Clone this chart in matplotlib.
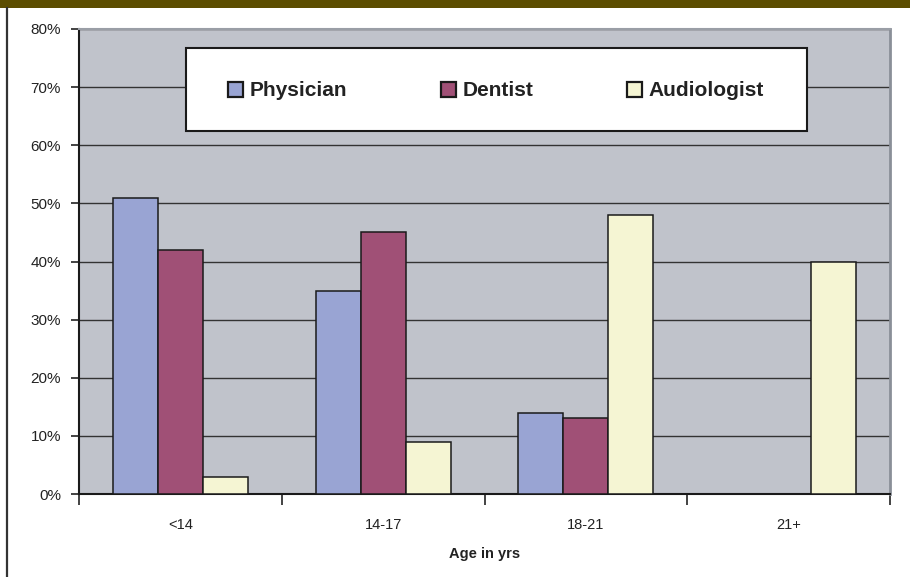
import matplotlib.pyplot as plt
import matplotlib.transforms as mtransforms
import numpy as np
from matplotlib.patches import Rectangle
from matplotlib.lines import Line2D

# data
ages = ['<14', '14-17', '18-21', '21+']
physician = [51, 35, 14, 0]
dentist = [42, 45, 13, 0]
audiologist = [3, 9, 48, 40]
series = ['Physician', 'Dentist', 'Audiologist']
colors = ['#99A4D3', '#A05076', '#F5F5D3']

plt.rcParams['font.family'] = ['Liberation Sans', 'DejaVu Sans']

W, H = 910, 577
fig = plt.figure(figsize=(W / 100, H / 100), dpi=100)

# olive band on top and dark line on the left
fig.patches.append(Rectangle((0, 1 - 8 / H), 1, 8 / H, transform=fig.transFigure,
                             facecolor='#5C4D00', edgecolor='none'))
fig.lines.append(Line2D([6.5 / W, 6.5 / W], [0, 1 - 8 / H], transform=fig.transFigure,
                        color='#333333', lw=1.6))

l, r, t, b = 79, 890, 29, 494
ax = fig.add_axes([l / W, 1 - b / H, (r - l) / W, (b - t) / H])
ax.set_facecolor('#C0C3CB')

x = np.arange(len(ages))
w = 0.222
for i, (vals, c) in enumerate(zip([physician, dentist, audiologist], colors)):
    ax.bar(x + (i - 1) * w, vals, w, color=c, edgecolor='#1A1A1A', linewidth=1.1,
           label=series[i], zorder=3)

ax.set_xlim(-0.5, len(ages) - 0.5)
ax.set_ylim(0, 80)
ax.set_yticks(range(0, 81, 10))
ax.set_yticklabels(['%d%%' % v for v in range(0, 81, 10)], fontsize=11, color='#222222')
ax.yaxis.grid(True, color='#333333', lw=1.0, zorder=1)
ax.set_axisbelow(True)
ax.tick_params(axis='y', length=6, width=1.2, color='#222222', pad=7)

# ticks between the groups, labels in the middle
ax.set_xticks(np.arange(len(ages) + 1) - 0.5)
ax.set_xticklabels([])
ax.tick_params(axis='x', which='major', length=8, width=1.2, color='#222222')
ax.set_xticks(x, minor=True)
ax.set_xticklabels(ages, minor=True, fontsize=10.5, color='#222222')
ax.tick_params(axis='x', which='minor', length=0, pad=17)

trans = mtransforms.blended_transform_factory(ax.transAxes, fig.transFigure)
ax.text(0.5, 1 - 554 / H, 'Age in yrs', transform=trans, ha='center',
        va='center', fontsize=10.5, fontweight='bold', color='#222222')

for s in ['left', 'bottom']:
    ax.spines[s].set_color('#1A1A1A')
    ax.spines[s].set_linewidth(1.5)
ax.spines['top'].set_color('#9A9EA6')
ax.spines['right'].set_color('#8A8F98')
ax.spines['top'].set_linewidth(1.5)
ax.spines['right'].set_linewidth(2)

# legend box
bx0, bx1, by0, by1 = 186, 807, 48, 131
fig.patches.append(Rectangle((bx0 / W, 1 - by1 / H), (bx1 - bx0) / W, (by1 - by0) / H,
                             transform=fig.transFigure, facecolor='white',
                             edgecolor='#1A1A1A', lw=1.5, zorder=5))
leg = fig.legend(loc='center', bbox_to_anchor=(496 / W, 1 - 91 / H),
                 ncol=3, frameon=False, prop={'size': 15, 'weight': 'bold'},
                 handlelength=0.72, handleheight=0.72, handletextpad=0.3,
                 columnspacing=4.5)
leg.set_zorder(6)
for txt in leg.get_texts():
    txt.set_color('#222222')
for hnd in leg.legend_handles:
    hnd.set_linewidth(1.6)

fig.savefig('out.png', dpi=100)
